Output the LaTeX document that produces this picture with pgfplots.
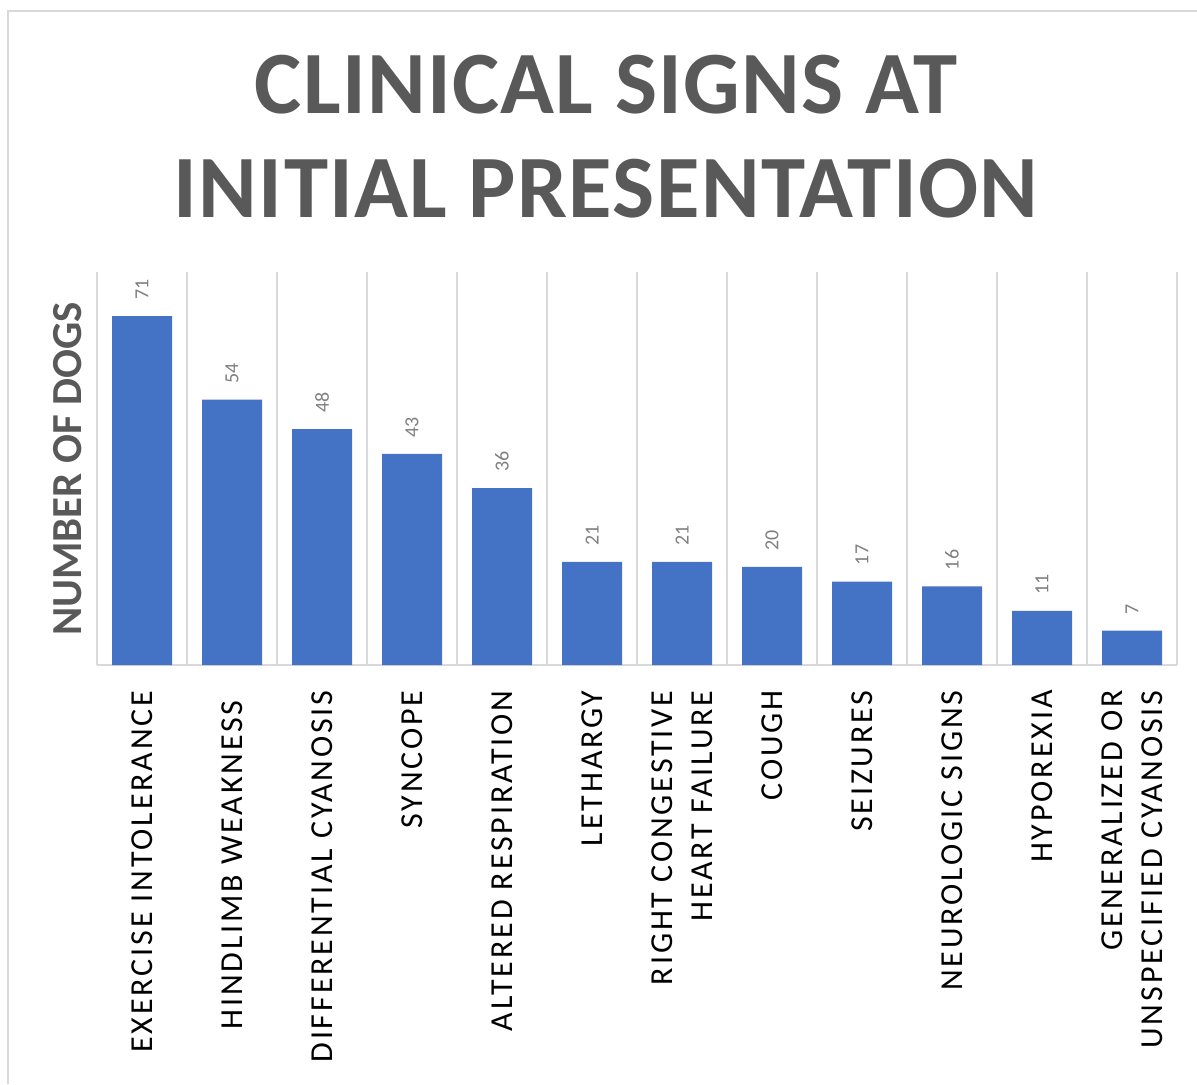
\documentclass[border=0pt]{standalone}
\usepackage{fontspec}
\usepackage{pgfplots}
\pgfplotsset{compat=1.18}
\setmainfont{Carlito}
\newfontfamily\titlefont[LetterSpace=1.5]{Carlito}
\newfontfamily\tickfont[LetterSpace=9]{Carlito}
\definecolor{barblue}{HTML}{4472C4}
\definecolor{titlegray}{HTML}{595959}
\definecolor{gridgray}{HTML}{D9D9D9}
\definecolor{labelgray}{HTML}{7F7F7F}
\begin{document}
\begin{tikzpicture}
\useasboundingbox (0,0) rectangle (598.5pt,542pt);
% chart frame
\draw[gridgray, line width=0.8pt] (4pt,0pt) -- (4pt,536.5pt) -- (598.5pt,536.5pt);
% title
\node[anchor=base, text=titlegray, font=\titlefont\bfseries\fontsize{44.5}{50}\selectfont] at (303pt,485pt) {CLINICAL SIGNS AT};
\node[anchor=base, text=titlegray, font=\titlefont\bfseries\fontsize{44.5}{50}\selectfont] at (303pt,433pt) {INITIAL PRESENTATION};
% y axis title
\node[rotate=90, text=titlegray, font=\bfseries\fontsize{21.4}{24}\selectfont] at (34pt,307.5pt) {NUMBER OF DOGS};
\begin{axis}[
  at={(48.5pt,209.5pt)}, anchor=south west,
  scale only axis, width=540pt, height=196.5pt,
  ymin=0, ymax=80,
  xmin=-0.5, xmax=11.5,
  ytick=\empty,
  xtick={0,...,11},
  xticklabels={EXERCISE INTOLERANCE, {HINDLIMB WEAKNESS\hspace{5pt}}, DIFFERENTIAL CYANOSIS, SYNCOPE, ALTERED RESPIRATION, LETHARGY, {RIGHT CONGESTIVE\\HEART FAILURE}, COUGH, SEIZURES, NEUROLOGIC SIGNS, HYPOREXIA, {GENERALIZED OR\\UNSPECIFIED CYANOSIS}},
  xticklabel style={rotate=90, anchor=east, align=right, font=\tickfont\fontsize{16}{20}\selectfont, text=black, inner sep=0pt, xshift=-12.5pt},
  minor xtick={-0.5,0.5,...,11.5},
  xminorgrids=true,
  minor grid style={gridgray, line width=0.8pt},
  major tick length=0pt, minor tick length=0pt,
  axis y line=none,
  axis x line*=bottom,
  x axis line style={gridgray, line width=0.8pt, -},
  ybar, bar width=30pt,
  nodes near coords,
  /pgf/number format/assume math mode=true,
  every node near coord/.append style={rotate=90, anchor=west, text=labelgray, font=\fontsize{10}{12}\selectfont, inner xsep=8pt, inner ysep=0pt},
  clip=false,
]
\addplot[fill=barblue, draw=none] coordinates {
  (0,71) (1,54) (2,48) (3,43) (4,36) (5,21) (6,21) (7,20) (8,17) (9,16) (10,11) (11,7)
};
\end{axis}
\end{tikzpicture}
\end{document}
